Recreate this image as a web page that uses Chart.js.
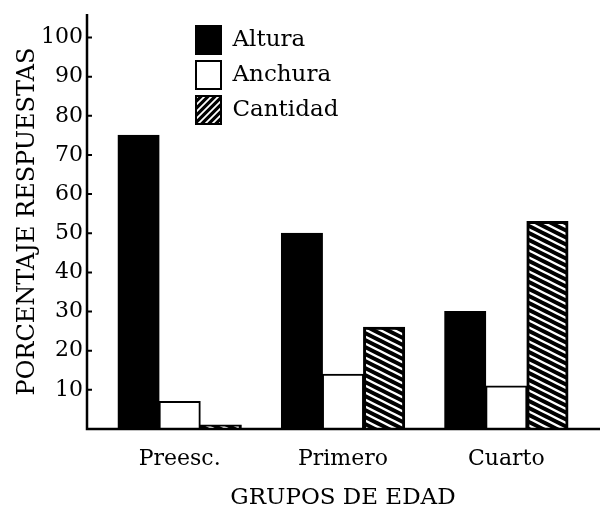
<!DOCTYPE html>
<html>
<head>
<meta charset="utf-8">
<script src="https://cdn.jsdelivr.net/npm/chart.js@4.4.0/dist/chart.umd.min.js"></script>
<style>
    html, body { margin: 0; padding: 0; background: #fff; }
    #wrap { width: 603px; height: 512px; }
</style>
</head>
<body>
<div id="wrap"><canvas id="myChart" width="603" height="512"></canvas></div>
<script>
// Valeurs
var grupos = ['Preesc.', 'Primero', 'Cuarto'];
var altura = [75, 50, 30];
var anchura = [7, 14, 11];
var cantidad = [1, 26, 53];
var yTicks = [10, 20, 30, 40, 50, 60, 70, 80, 90, 100];

var serif = "'DejaVu Serif', 'Liberation Serif', serif";

// Motif hachuré des barres : rayures blanches descendantes, pente douce
function makeBarHatch() {
    var c = document.createElement('canvas');
    c.width = 14;
    c.height = 7;
    var g = c.getContext('2d');
    g.fillStyle = '#000';
    g.fillRect(0, 0, 14, 7);
    g.strokeStyle = '#fff';
    g.lineWidth = 2.4;
    g.beginPath();
    [-7, 0, 7].forEach(function(k) {
        g.moveTo(-4, -2 + k);
        g.lineTo(18, 9 + k);
    });
    g.stroke();
    return g.createPattern(c, 'repeat');
}

// Motif de la légende : "///"
function makeLegendHatch() {
    var c = document.createElement('canvas');
    c.width = 7;
    c.height = 7;
    var g = c.getContext('2d');
    g.fillStyle = '#000';
    g.fillRect(0, 0, 7, 7);
    g.strokeStyle = '#fff';
    g.lineWidth = 1.8;
    g.beginPath();
    g.moveTo(-2, 9); g.lineTo(9, -2);
    g.moveTo(-2, 2); g.lineTo(2, -2);
    g.moveTo(5, 9); g.lineTo(9, 5);
    g.stroke();
    return g.createPattern(c, 'repeat');
}

var hatchBar = makeBarHatch();
var hatchLegend = makeLegendHatch();

// Plugin : axes dessinés à la main (ticks vers l'intérieur) + position de la légende
var axesPlugin = {
    id: 'axes',
    afterLayout: function(chart) {
        chart.legend.left = chart.chartArea.left + 91;
        chart.legend.top = chart.chartArea.top + 5;
    },
    afterDatasetsDraw: function(chart) {
        var ctx = chart.ctx;
        var a = chart.chartArea;
        var yScale = chart.scales.y;
        var x0 = a.left - 11;
        ctx.save();
        ctx.strokeStyle = '#000';
        ctx.lineWidth = 2.5;
        ctx.beginPath();
        ctx.moveTo(x0, a.top);
        ctx.lineTo(x0, a.bottom);
        ctx.lineTo(chart.width - 3, a.bottom);
        ctx.stroke();
        ctx.lineWidth = 2;
        ctx.beginPath();
        yTicks.forEach(function(v) {
            var py = yScale.getPixelForValue(v);
            ctx.moveTo(x0, py);
            ctx.lineTo(x0 + 5, py);
        });
        ctx.stroke();
        ctx.restore();
    }
};

var ctx = document.getElementById('myChart').getContext('2d');

var myChart = new Chart(ctx, {
    type: 'bar',
    data: {
        labels: grupos,
        datasets: [{
            label: 'Altura',
            data: altura,
            backgroundColor: '#000',
            borderColor: '#000',
            borderWidth: 2
        }, {
            label: 'Anchura',
            data: anchura,
            backgroundColor: '#fff',
            borderColor: '#000',
            borderWidth: 2
        }, {
            label: 'Cantidad',
            data: cantidad,
            backgroundColor: hatchBar,
            borderColor: '#000',
            borderWidth: 3
        }]
    },
    options: {
        responsive: false,
        animation: false,
        layout: { padding: { top: 14, right: 15, bottom: 0, left: 0 } },
        datasets: {
            bar: { categoryPercentage: 0.755, barPercentage: 1.0, inflateAmount: 0.5 }
        },
        plugins: {
            tooltip: { enabled: false },
            legend: {
                position: 'chartArea',
                align: 'start',
                labels: {
                    color: '#000',
                    font: { family: serif, size: 23 },
                    boxWidth: 25,
                    boxHeight: 28,
                    padding: 7,
                    generateLabels: function(chart) {
                        var items = Chart.defaults.plugins.legend.labels.generateLabels(chart);
                        items[2].fillStyle = hatchLegend;
                        items[2].lineWidth = 2;
                        return items;
                    }
                }
            }
        },
        scales: {
            x: {
                afterFit: function(scale) { scale.height = 83; },
                grid: { display: false, drawTicks: false },
                border: { display: false },
                ticks: { color: '#000', font: { family: serif, size: 22 }, padding: 17 },
                title: {
                    display: true,
                    text: 'GRUPOS DE EDAD',
                    color: '#000',
                    font: { family: serif, size: 23 },
                    padding: { top: 0, bottom: 0 }
                }
            },
            y: {
                min: 0,
                max: 106,
                afterBuildTicks: function(scale) {
                    scale.ticks = yTicks.map(function(v) { return { value: v }; });
                },
                afterFit: function(scale) {
                    scale.width = 98;
                    scale.paddingTop = 0;
                    scale.paddingBottom = 0;
                },
                grid: { display: false, drawTicks: false },
                border: { display: false },
                ticks: { color: '#000', font: { family: serif, size: 22 }, padding: 15 },
                title: {
                    display: true,
                    text: 'PORCENTAJE RESPUESTAS',
                    color: '#000',
                    font: { family: serif, size: 24 },
                    padding: { top: 13, bottom: 0 }
                }
            }
        }
    },
    plugins: [axesPlugin]
});
</script>
</body>
</html>
